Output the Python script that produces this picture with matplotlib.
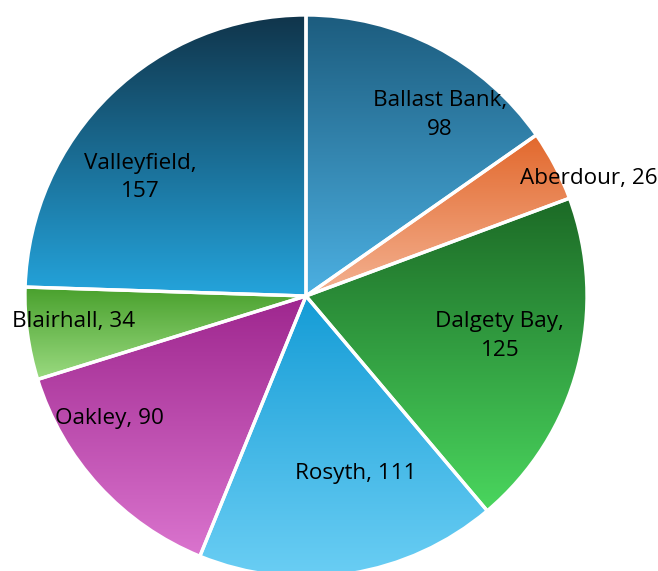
import numpy as np
import matplotlib
matplotlib.use("Agg")
import matplotlib.pyplot as plt
from matplotlib.colors import to_rgb

towns = ["Ballast Bank", "Aberdour", "Dalgety Bay", "Rosyth", "Oakley", "Blairhall", "Valleyfield"]
counts = [98, 26, 125, 111, 90, 34, 157]

# top / bottom colour of each slice's vertical gradient
top_colors = ["#1c5c7e", "#e2682c", "#1c6a26", "#159cd6", "#9e268e", "#48a02c", "#10344a"]
bottom_colors = ["#4cb0e2", "#f4b292", "#4ad65e", "#6acef4", "#da74ce", "#9ada80", "#24a4dc"]

# label spots, in pie radius units from the centre
label_pos = [(0.477, 0.644), (1.007, 0.418), (0.69, -0.142), (0.178, -0.63),
             (-0.698, -0.436), (-0.826, -0.091), (-0.591, 0.422)]
label_text = ["Ballast Bank,\n98", "Aberdour, 26", "Dalgety Bay,\n125", "Rosyth, 111",
              "Oakley, 90", "Blairhall, 34", "Valleyfield,\n157"]

W, H = 658, 571
cx, cy, R = 306, 296, 281  # pixel centre (from top) and radius

fig = plt.figure(figsize=(W / 100, H / 100), dpi=100)
ax = fig.add_axes([0, 0, 1, 1])

wedges, _ = ax.pie(counts, startangle=90, counterclock=False, radius=1,
                   wedgeprops=dict(facecolor="none", edgecolor="white", linewidth=2.4))

for w, c0, c1 in zip(wedges, top_colors, bottom_colors):
    w.set_zorder(3)
    ext = w.get_path().get_extents()
    n = 256
    t = np.linspace(0, 1, n)[:, None]
    rgb = np.array(to_rgb(c1)) * (1 - t) + np.array(to_rgb(c0)) * t
    img = rgb[:, None, :]
    im = ax.imshow(img, extent=[ext.x0, ext.x1, ext.y0, ext.y1], origin="lower",
                   interpolation="bilinear", zorder=2, aspect="auto")
    im.set_clip_path(w)

for (dx, dy), txt in zip(label_pos, label_text):
    ax.text(dx, dy, txt, ha="center", va="center", fontsize=16.2,
            family="Open Sans", linespacing=1.45, color="black", zorder=4)

ax.set_xlim(-cx / R, (W - cx) / R)
ax.set_ylim(-(H - cy) / R, cy / R)
ax.set_aspect("equal")
ax.axis("off")

fig.savefig("out.png", dpi=100)
